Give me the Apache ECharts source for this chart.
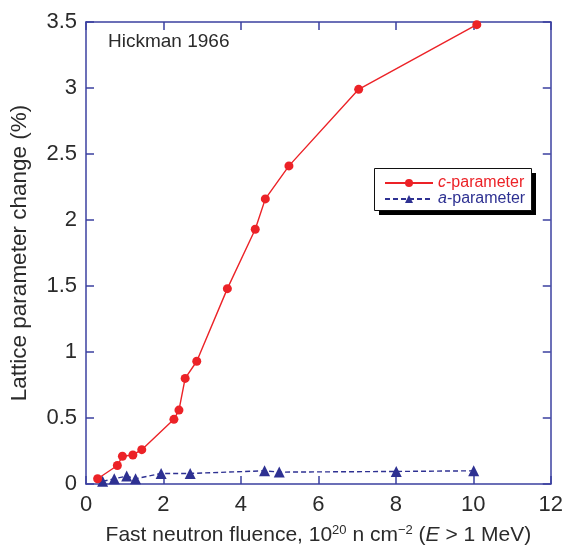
<!DOCTYPE html>
<html><head><meta charset="utf-8">
<script src="https://cdn.jsdelivr.net/npm/echarts@6/dist/echarts.min.js"></script>
<style>html,body{margin:0;padding:0;background:#fff}#c{width:566px;height:551px}</style>
</head><body><div id="c"></div>
<script>
const cParam = [[0.30,0.04],[0.81,0.14],[0.94,0.21],[1.21,0.22],[1.44,0.26],[2.27,0.49],[2.40,0.56],[2.56,0.80],[2.86,0.93],[3.65,1.48],[4.37,1.93],[4.63,2.16],[5.24,2.41],[7.04,2.99],[10.09,3.48]];
const aParam = [[0.43,0.02],[0.73,0.04],[1.05,0.06],[1.28,0.04],[1.94,0.08],[2.69,0.08],[4.61,0.10],[4.99,0.09],[8.01,0.095],[10.01,0.10]];
const seriesNames = ['c-parameter','a-parameter'];
const annotation = 'Hickman 1966';

const RED = '#ec2227', BLUE = '#2e3192', AX = '#3b40a0', TXT = '#2b2b2b';
const FONT = 'Liberation Sans, Arial, sans-serif';
const chart = echarts.init(document.getElementById('c'));
const axisCommon = {
  axisLine:{show:true, onZero:false, lineStyle:{color:AX, width:1.5}},
  axisTick:{show:true, inside:true, length:8, lineStyle:{color:AX, width:1.5}},
  splitLine:{show:false}
};
chart.setOption({
  animation:false,
  textStyle:{fontFamily:FONT},
  grid:{left:84, right:13, top:22, bottom:62, containLabel:false},
  graphic:[
    {type:'text', left:108, top:32, z:10, style:{text:annotation, font:'19px '+FONT, fill:TXT}},
    {type:'rect', shape:{x:379, y:173, width:157, height:42}, style:{fill:'#000'}, z:10},
    {type:'rect', shape:{x:374.5, y:168.5, width:157, height:42}, style:{fill:'#fff', stroke:'#111', lineWidth:1}, z:11}
  ],
  legend:{
    show:true, orient:'vertical', left:384, top:175, padding:0, itemGap:0,
    itemWidth:48, itemHeight:10, z:20,
    data:seriesNames,
    formatter:function(n){ return n===seriesNames[0] ? '{ci|c}{cr|-parameter}' : '{ai|a}{ar|-parameter}'; },
    textStyle:{fontSize:16, lineHeight:15, fontFamily:FONT, rich:{
      ci:{color:RED, fontStyle:'italic', fontSize:16, lineHeight:15, fontFamily:FONT},
      cr:{color:RED, fontSize:16, lineHeight:15, fontFamily:FONT},
      ai:{color:BLUE, fontStyle:'italic', fontSize:16, lineHeight:15, fontFamily:FONT},
      ar:{color:BLUE, fontSize:16, lineHeight:15, fontFamily:FONT}}}
  },
  xAxis:[Object.assign({type:'value', min:0, max:12, interval:2, position:'bottom',
    axisLabel:{color:TXT, fontSize:22, margin:10, fontFamily:FONT},
    name:'Fast neutron fluence, 10{sup|20} n cm{sup|−2} ({i|E} > 1 MeV)',
    nameLocation:'middle', nameGap:40,
    nameTextStyle:{color:TXT, fontSize:21, fontFamily:FONT, rich:{
      sup:{fontSize:13, verticalAlign:'top', color:TXT, padding:[0,0,10,0], fontFamily:FONT},
      i:{fontStyle:'italic', fontSize:21, color:TXT, fontFamily:FONT}}}
  }, axisCommon),
  Object.assign({type:'value', min:0, max:12, interval:2, position:'top', axisLabel:{show:false}}, axisCommon)],
  yAxis:[Object.assign({type:'value', min:0, max:3.5, interval:0.5, position:'left',
    axisLabel:{color:TXT, fontSize:22, margin:9, fontFamily:FONT},
    name:'Lattice parameter change (%)', nameLocation:'middle', nameGap:55,
    nameTextStyle:{color:TXT, fontSize:22.5, fontFamily:FONT}
  }, axisCommon),
  Object.assign({type:'value', min:0, max:3.5, interval:0.5, position:'right', axisLabel:{show:false}}, axisCommon)],
  series:[
    {name:seriesNames[0], type:'line', data:cParam, symbol:'circle', symbolSize:9, clip:false,
      itemStyle:{color:RED}, lineStyle:{color:RED, width:1.4}, z:3},
    {name:seriesNames[1], type:'line', data:aParam, symbol:'triangle', symbolSize:11, clip:false,
      itemStyle:{color:BLUE}, lineStyle:{color:BLUE, width:1.4, type:[5,3]}, z:2}
  ]
});
</script></body></html>
